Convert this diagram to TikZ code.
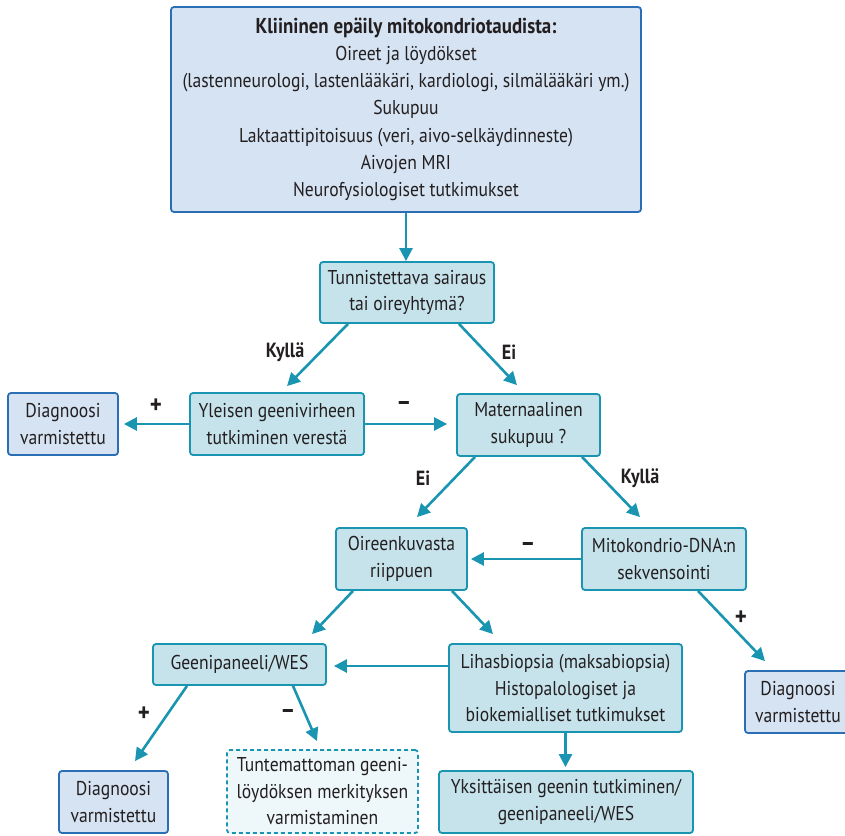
\documentclass[tikz,border=0pt]{standalone}
\usepackage{fontspec}
\setmainfont{PT Sans}[FakeStretch=0.88]
\usetikzlibrary{arrows.meta}
\definecolor{tealline}{RGB}{25,149,177}
\definecolor{tealfill}{RGB}{198,227,236}
\definecolor{blueline}{RGB}{42,110,180}
\definecolor{bluefill}{RGB}{213,227,243}
\definecolor{dashfill}{RGB}{238,247,249}
\definecolor{txt}{RGB}{35,31,32}
\tikzset{
  base/.style={rectangle, rounded corners=3pt, line width=1.8pt, inner sep=0pt, align=center, text=txt,
    font=\fontsize{20}{26.5}\selectfont},
  tealbox/.style={base, draw=tealline, fill=tealfill},
  bluebox/.style={base, draw=blueline, fill=bluefill},
  dashbox/.style={base, draw=tealline, fill=dashfill, dashed, dash pattern=on 4pt off 3pt},
  arr/.style={draw=tealline, line width=2.6pt, -{Triangle[length=13pt,width=13pt]}},
  lab/.style={text=txt, font=\fontsize{20.5}{22}\selectfont\bfseries, inner sep=0pt},
  sign/.style={text=txt, font=\fontsize{26}{26}\selectfont\bfseries, inner sep=0pt}
}
\begin{document}
\begin{tikzpicture}[x=1pt,y=-1pt]
\useasboundingbox (0,0) rectangle (845,835);
\node[bluebox, minimum width=470pt, minimum height=205pt, font=\fontsize{20}{27.2}\selectfont] (top) at (406,109.5)
  {\raisebox{-3.5pt}{\begin{tabular}{@{}c@{}}{\fontsize{21.5}{27.2}\selectfont\bfseries Kliininen epäily mitokondriotaudista:}\\Oireet ja löydökset\\(lastenneurologi, lastenlääkäri, kardiologi, silmälääkäri ym.)\\Sukupuu\\Laktaattipitoisuus (veri, aivo-selkäydinneste)\\Aivojen MRI\\Neurofysiologiset tutkimukset\end{tabular}}};
\node[tealbox, minimum width=174pt, minimum height=61pt] (tun) at (407,292.5) {Tunnistettava sairaus\\tai oireyhtymä?};
\node[tealbox, minimum width=174pt, minimum height=62pt] (yle) at (277,424) {Yleisen geenivirheen\\tutkiminen verestä};
\node[bluebox, minimum width=110pt, minimum height=62pt] (dg1) at (63,424) {Diagnoosi\\varmistettu};
\node[tealbox, minimum width=143pt, minimum height=62pt] (mat) at (528.5,425) {Maternaalinen\\sukupuu ?};
\node[tealbox, minimum width=131pt, minimum height=62pt] (oir) at (401.5,559) {Oireenkuvasta\\riippuen};
\node[tealbox, minimum width=164pt, minimum height=62pt] (mit) at (664,559) {Mitokondrio-DNA:n\\sekvensointi};
\node[tealbox, minimum width=173pt, minimum height=41pt] (gee) at (239.5,664.5) {Geenipaneeli/WES};
\node[tealbox, minimum width=233pt, minimum height=88pt] (lih) at (565.5,688) {Lihasbiopsia (maksabiopsia)\\Histopalologiset ja\\biokemialliset tutkimukset};
\node[bluebox, minimum width=106pt, minimum height=62pt] (dg2) at (798,702) {Diagnoosi\\varmistettu};
\node[bluebox, minimum width=109pt, minimum height=62pt] (dg3) at (113.5,802) {Diagnoosi\\varmistettu};
\node[dashbox, minimum width=191pt, minimum height=83pt] (dash) at (322.5,791.5) {Tuntemattoman geeni-\\löydöksen merkityksen\\varmistaminen};
\node[tealbox, minimum width=254pt, minimum height=62pt] (yks) at (566,802) {Yksittäisen geenin tutkiminen/\\geenipaneeli/WES};

\draw[arr] (top.south) -- (top.south |- tun.north);
\draw[arr] ([xshift=-59pt]tun.south) -- ([xshift=10pt,yshift=6pt]yle.north);
\draw[arr] ([xshift=52pt]tun.south) -- ([xshift=-11.5pt,yshift=8pt]mat.north);
\draw[arr] (yle.west) -- ([xshift=5pt]yle.west -| dg1.east);
\draw[arr] (yle.east) -- ([xshift=-9pt]yle.east -| mat.west);
\draw[arr] ([xshift=-53.5pt]mat.south) -- ([xshift=15.5pt,yshift=10pt]oir.north);
\draw[arr] ([xshift=53.5pt]mat.south) -- ([xshift=-24pt,yshift=10pt]mit.north);
\draw[arr] (mit.west) -- ([xshift=3pt]mit.west -| oir.east);
\draw[arr] ([xshift=-48.5pt]oir.south) -- ([xshift=72.5pt,yshift=9pt]gee.north);
\draw[arr] ([xshift=50.5pt]oir.south) -- ([xshift=-72.5pt,yshift=9pt]lih.north);
\draw[arr] ([xshift=34pt]mit.south) -- ([xshift=-33pt,yshift=9pt]dg2.north);
\draw[arr] ([yshift=-1.5pt]lih.west |- gee.east) -- ([xshift=7pt,yshift=-1.5pt]gee.east);
\draw[arr] (lih.south) -- ([yshift=3pt]lih.south |- yks.north);
\draw[arr] ([xshift=-52.5pt]gee.south) -- ([xshift=21.5pt,yshift=9pt]dg3.north);
\draw[arr] ([xshift=53.5pt]gee.south) -- ([xshift=-5.5pt,yshift=8pt]dash.north);

\node[lab] (l1) at (285,352) {Kyllä};
\node[lab] (l2) at (509,352) {Ei};
\node[sign] (l3) at (156,406) {+};
\node[sign] (l4) at (404,406) {–};
\node[lab] (l5) at (423,478) {Ei};
\node[lab] (l6) at (640,478) {Kyllä};
\node[sign] (l7) at (528,547) {–};
\node[sign] (l8) at (741,618) {+};
\node[sign] (l9) at (144,714) {+};
\node[sign] (l10) at (288,714) {–};
\end{tikzpicture}
\end{document}
